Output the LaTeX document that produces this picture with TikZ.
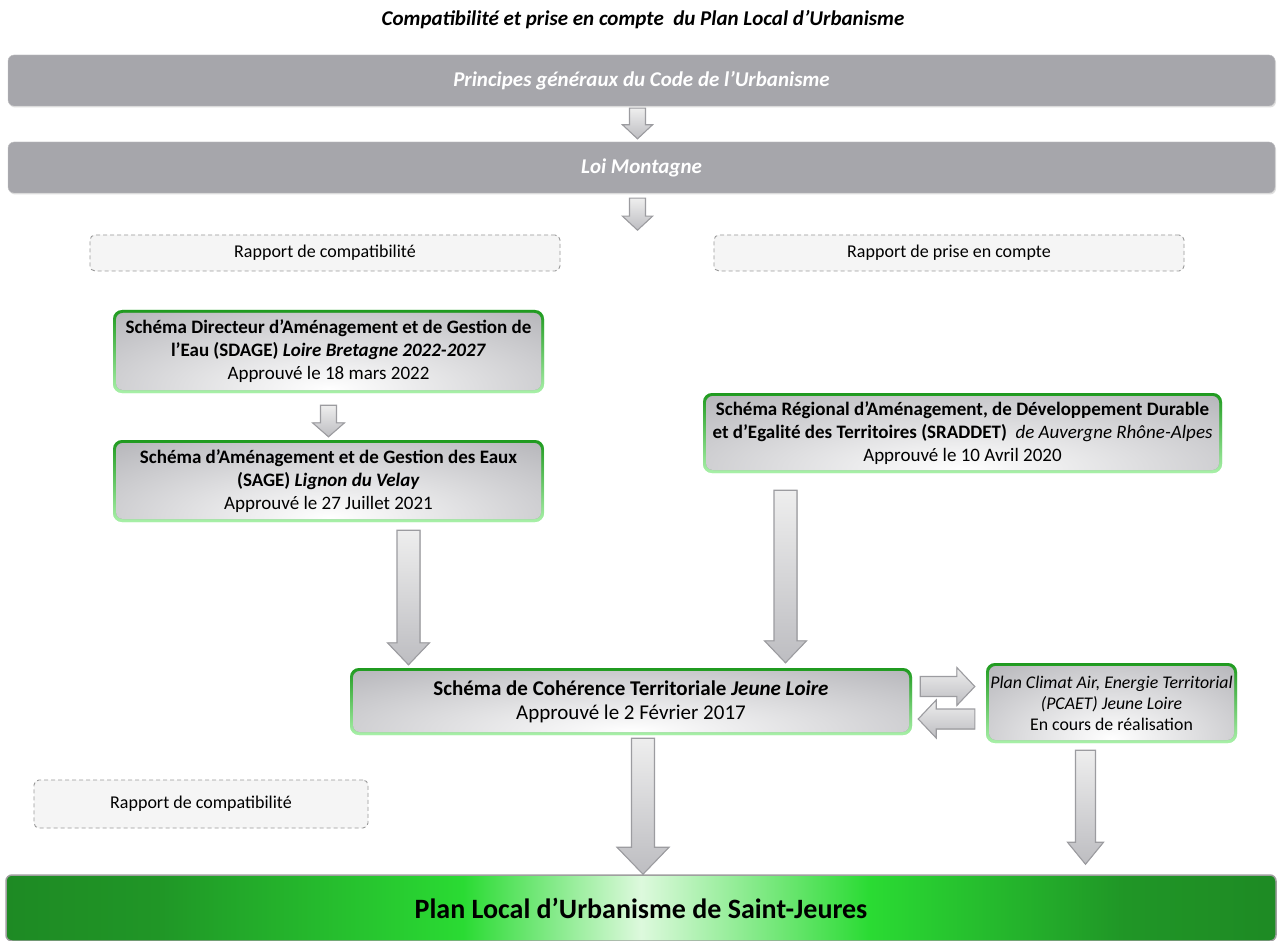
\documentclass[tikz,border=0pt]{standalone}
\usepackage{fontspec}
\setmainfont{Carlito}
\usetikzlibrary{calc,shadows}
\definecolor{bargray}{HTML}{A6A6AB}
\definecolor{boxgray}{HTML}{9A9AA0}
\definecolor{gtop}{HTML}{1F9A1F}
\definecolor{gbot}{HTML}{A8F0A8}
\definecolor{arrline}{HTML}{9C9CA0}
\definecolor{arrtop}{HTML}{EEEEEE}
\definecolor{arrbot}{HTML}{BDBDC1}
\definecolor{pludark}{HTML}{1E8A24}
\definecolor{plubright}{HTML}{2ADB33}
\definecolor{plulight}{HTML}{DDF9DD}
\pgfdeclarehorizontalshading{plushade}{100bp}{color(0bp)=(pludark); color(25bp)=(pludark); color(31bp)=(pludark!85!plubright); color(43bp)=(plubright); color(50bp)=(plulight); color(59bp)=(plubright); color(69bp)=(pludark!85!plubright); color(75bp)=(pludark); color(100bp)=(pludark)}
\newcommand\BlkArrow[5]{%
  \path #1 coordinate (baS) #2 coordinate (baE);
  \path ($(baE)!#5!(baS)$) coordinate (baH);
  \filldraw[blockarr] ($(baS)!#3!90:(baE)$) -- ($(baH)!#3!-90:(baS)$) -- ($(baH)!#4!-90:(baS)$) -- (baE) -- ($(baH)!#4!90:(baS)$) -- ($(baH)!#3!90:(baS)$) -- ($(baS)!#3!-90:(baE)$) -- cycle;}
\tikzset{
  graybar/.style={rectangle, rounded corners=6pt, fill=bargray, draw=bargray!70!white, minimum width=1267pt, minimum height=51pt, inner sep=0pt, text=white, font=\fontsize{21}{25}\selectfont\bfseries\itshape, drop shadow={opacity=0.25, shadow xshift=1pt, shadow yshift=-1.5pt}},
  dashbox/.style={rectangle, rounded corners=5pt, draw=gray!80, line width=0.9pt, dash pattern=on 4pt off 3pt, fill=gray!8, inner sep=0pt, font=\fontsize{18}{22}\selectfont},
  greenbox/.style={rectangle, rounded corners=9pt, fill=gbot, inner sep=0pt, align=center, font=\fontsize{19}{23}\selectfont,
    path picture={
      \shade[top color=gtop, bottom color=gbot] (path picture bounding box.south west) rectangle (path picture bounding box.north east);
      \begin{scope}
        \clip[rounded corners=7pt] ([shift={(3pt,3pt)}]path picture bounding box.south west) rectangle ([shift={(-3pt,-3pt)}]path picture bounding box.north east);
        \fill[boxgray] (path picture bounding box.south west) rectangle (path picture bounding box.north east);
        \shade[inner color=white, outer color=boxgray] let \p1=($(path picture bounding box.north east)-(path picture bounding box.south west)$) in ([yshift=4pt]path picture bounding box.south) ellipse [x radius={1.05*\x1}, y radius={1.7*\y1}];
      \end{scope}
    }},
  blockarr/.style={draw=arrline, line width=1.1pt, top color=arrtop, bottom color=arrbot, line join=miter},
  plubar/.style={rectangle, rounded corners=6pt, shading=plushade, draw=gray!75, line width=1.5pt, minimum width=1270pt, minimum height=66pt, inner sep=0pt, font=\fontsize{28}{32}\selectfont\bfseries},
  titletext/.style={font=\fontsize{21}{25}\selectfont\bfseries\itshape}
}
\begin{document}
\begin{tikzpicture}[x=1pt,y=-1pt]
\useasboundingbox[fill=white] (0,0) rectangle (1277,941);
\node[titletext] (title) at (643,20) {Compatibilité et prise en compte \ du Plan Local d’Urbanisme};
\node[graybar] (pg) at (641.5,80.5) {Principes généraux du Code de l’Urbanisme};
\node[graybar] (lm) at (641.5,167.5) {Loi Montagne};
\node[dashbox, minimum width=470pt, minimum height=36pt] (rc1) at (325,253) {Rapport de compatibilité};
\node[dashbox, minimum width=470pt, minimum height=36pt] (rp) at (949,253) {Rapport de prise en compte};
\node[dashbox, minimum width=334pt, minimum height=48pt] (rc2) at (201,804) {Rapport de compatibilité};
\node[greenbox, minimum width=431pt, minimum height=83pt] (sdage) at (328.5,351.5) {\textbf{Schéma Directeur d’Aménagement et de Gestion de}\\\textbf{l’Eau (SDAGE) \textit{Loire Bretagne 2022-2027}}\\Approuvé le 18 mars 2022};
\node[greenbox, minimum width=431pt, minimum height=82pt] (sage) at (328.5,481) {\textbf{Schéma d’Aménagement et de Gestion des Eaux}\\\textbf{(SAGE) \textit{Lignon du Velay}}\\Approuvé le 27 Juillet 2021};
\node[greenbox, minimum width=519pt, minimum height=80pt] (sraddet) at (962.5,433) {\textbf{Schéma Régional d’Aménagement, de Développement Durable}\\\textbf{et d’Egalité des Territoires (SRADDET)}\ \ \textit{de Auvergne Rhône-Alpes}\\Approuvé le 10 Avril 2020};
\node[greenbox, minimum width=562pt, minimum height=67pt, font=\fontsize{21}{24}\selectfont] (scot) at (631,701.5) {\textbf{Schéma de Cohérence Territoriale \textit{Jeune Loire}}\\Approuvé le 2 Février 2017};
\node[greenbox, minimum width=251pt, minimum height=80pt, font=\fontsize{17.8}{21}\selectfont] (pcaet) at (1111.5,703) {\textit{Plan Climat Air, Energie Territorial}\\\textit{(PCAET) Jeune Loire}\\En cours de réalisation};
\node[plubar] (plu) at (641,908) {Plan Local d’Urbanisme de Saint-Jeures};
% arrows
\BlkArrow{($(pg.south)+(-4,2)$)}{($(lm.north)+(-4,-3)$)}{8pt}{15pt}{14pt}
\coordinate (a2e) at ($(lm.south)+(-4,37)$);
\BlkArrow{($(lm.south)+(-4,5)$)}{(a2e)}{8pt}{15pt}{14pt}
\BlkArrow{($(sdage.south)+(0,12)$)}{($(sage.north)+(0,-3)$)}{8pt}{16pt}{14pt}
\coordinate (a4s) at ($(sage.south)+(80,8)$);
\BlkArrow{(a4s)}{($(a4s |- scot.north)+(0,-3)$)}{11.5pt}{21pt}{22pt}
\coordinate (a5s) at ($(sraddet.south)+(-177,17)$);
\BlkArrow{(a5s)}{($(a5s |- scot.north)+(0,-5)$)}{11.5pt}{21pt}{22pt}
\coordinate (a6s) at ($(scot.east)+(8,-15)$);
\BlkArrow{(a6s)}{($(a6s -| pcaet.west)+(-11,0)$)}{10pt}{19pt}{18pt}
\coordinate (a7s) at ($(pcaet.west)+(-11,16)$);
\BlkArrow{(a7s)}{($(a7s -| scot.east)+(6,0)$)}{10pt}{19pt}{18pt}
\coordinate (a8s) at ($(scot.south)+(12,3)$);
\BlkArrow{(a8s)}{(a8s |- plu.north)}{11.5pt}{26pt}{27pt}
\coordinate (a9s) at ($(pcaet.south)+(-26,7)$);
\BlkArrow{(a9s)}{($(a9s |- plu.north)+(0,-10)$)}{10pt}{18pt}{22pt}
\end{tikzpicture}
\end{document}
